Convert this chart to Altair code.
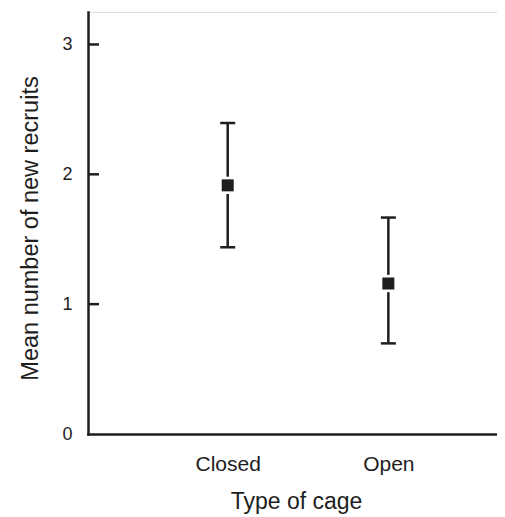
import altair as alt
import pandas as pd

# ---- data ----
cage_types = ["Closed", "Open"]
mean_recruits = [1.915, 1.159]
upper_bar = [2.395, 1.667]
lower_bar = [1.438, 0.698]
y_tick_values = [0, 1, 2, 3]

df = pd.DataFrame({
    "cage": cage_types,
    "mean": mean_recruits,
    "upper": upper_bar,
    "lower": lower_bar,
})
ticks_df = pd.DataFrame({"tick": [t for t in y_tick_values if t > 0]})

INK = "#1e1e1e"
FONT = "Liberation Sans"
W, H = 409, 422

x_scale = alt.Scale(type="point", padding=0.773, align=0.5625)
y_scale = alt.Scale(domain=[0, 3.25], nice=False, zero=True)

x_axis = alt.Axis(
    title="Type of cage", labelAngle=0, ticks=False, tickSize=0, grid=False,
    domainWidth=2.5, domainColor=INK, domainCap="square",
    labelFontSize=21, labelPadding=19, labelColor=INK, labelFont=FONT,
    titleFontSize=23, titleFont=FONT, titleFontWeight="normal", titleColor=INK,
    titleX=208, titleY=74, titleBaseline="alphabetic", titleAlign="center",
)
y_axis = alt.Axis(
    title="Mean number of new recruits", values=y_tick_values, ticks=False,
    tickSize=0, grid=False, format="d",
    domainWidth=2.5, domainColor=INK, domainCap="square",
    labelFontSize=18, labelPadding=16, labelColor=INK, labelFont=FONT,
    titleFontSize=23.5, titleFont=FONT, titleFontWeight="normal", titleColor=INK,
    titleX=-51, titleY=216, titleAngle=270, titleBaseline="alphabetic",
    titleAlign="center",
)

x_enc = alt.X("cage:N", sort=cage_types, scale=x_scale, axis=x_axis)

bars = alt.Chart(df).mark_rule(strokeWidth=2.5, color=INK).encode(
    x=x_enc,
    y=alt.Y("lower:Q", scale=y_scale, axis=y_axis),
    y2="upper:Q",
)
cap_hi = alt.Chart(df).mark_tick(orient="horizontal", size=15, thickness=2.5, color=INK, opacity=1).encode(
    x=alt.X("cage:N", sort=cage_types), y=alt.Y("upper:Q"),
)
cap_lo = alt.Chart(df).mark_tick(orient="horizontal", size=15, thickness=2.5, color=INK, opacity=1).encode(
    x=alt.X("cage:N", sort=cage_types), y=alt.Y("lower:Q"),
)
halo = alt.Chart(df).mark_square(size=300, color="white", opacity=1).encode(
    x=alt.X("cage:N", sort=cage_types), y=alt.Y("mean:Q"),
)
squares = alt.Chart(df).mark_square(size=144, color=INK, opacity=1).encode(
    x=alt.X("cage:N", sort=cage_types), y=alt.Y("mean:Q"),
)
inner_ticks = alt.Chart(ticks_df).mark_rule(strokeWidth=2.5, color=INK).encode(
    y=alt.Y("tick:Q"), x=alt.value(0), x2=alt.value(11),
)

chart = alt.layer(bars, cap_hi, cap_lo, halo, squares, inner_ticks).properties(
    width=W, height=H,
    autosize=alt.AutoSizeParams(type="none"),
    padding={"left": 80, "top": 4, "right": 0, "bottom": 83},
).configure_view(stroke=None).configure(background="white")

chart.save("out.html", embed_options={"renderer": "svg", "actions": False})
